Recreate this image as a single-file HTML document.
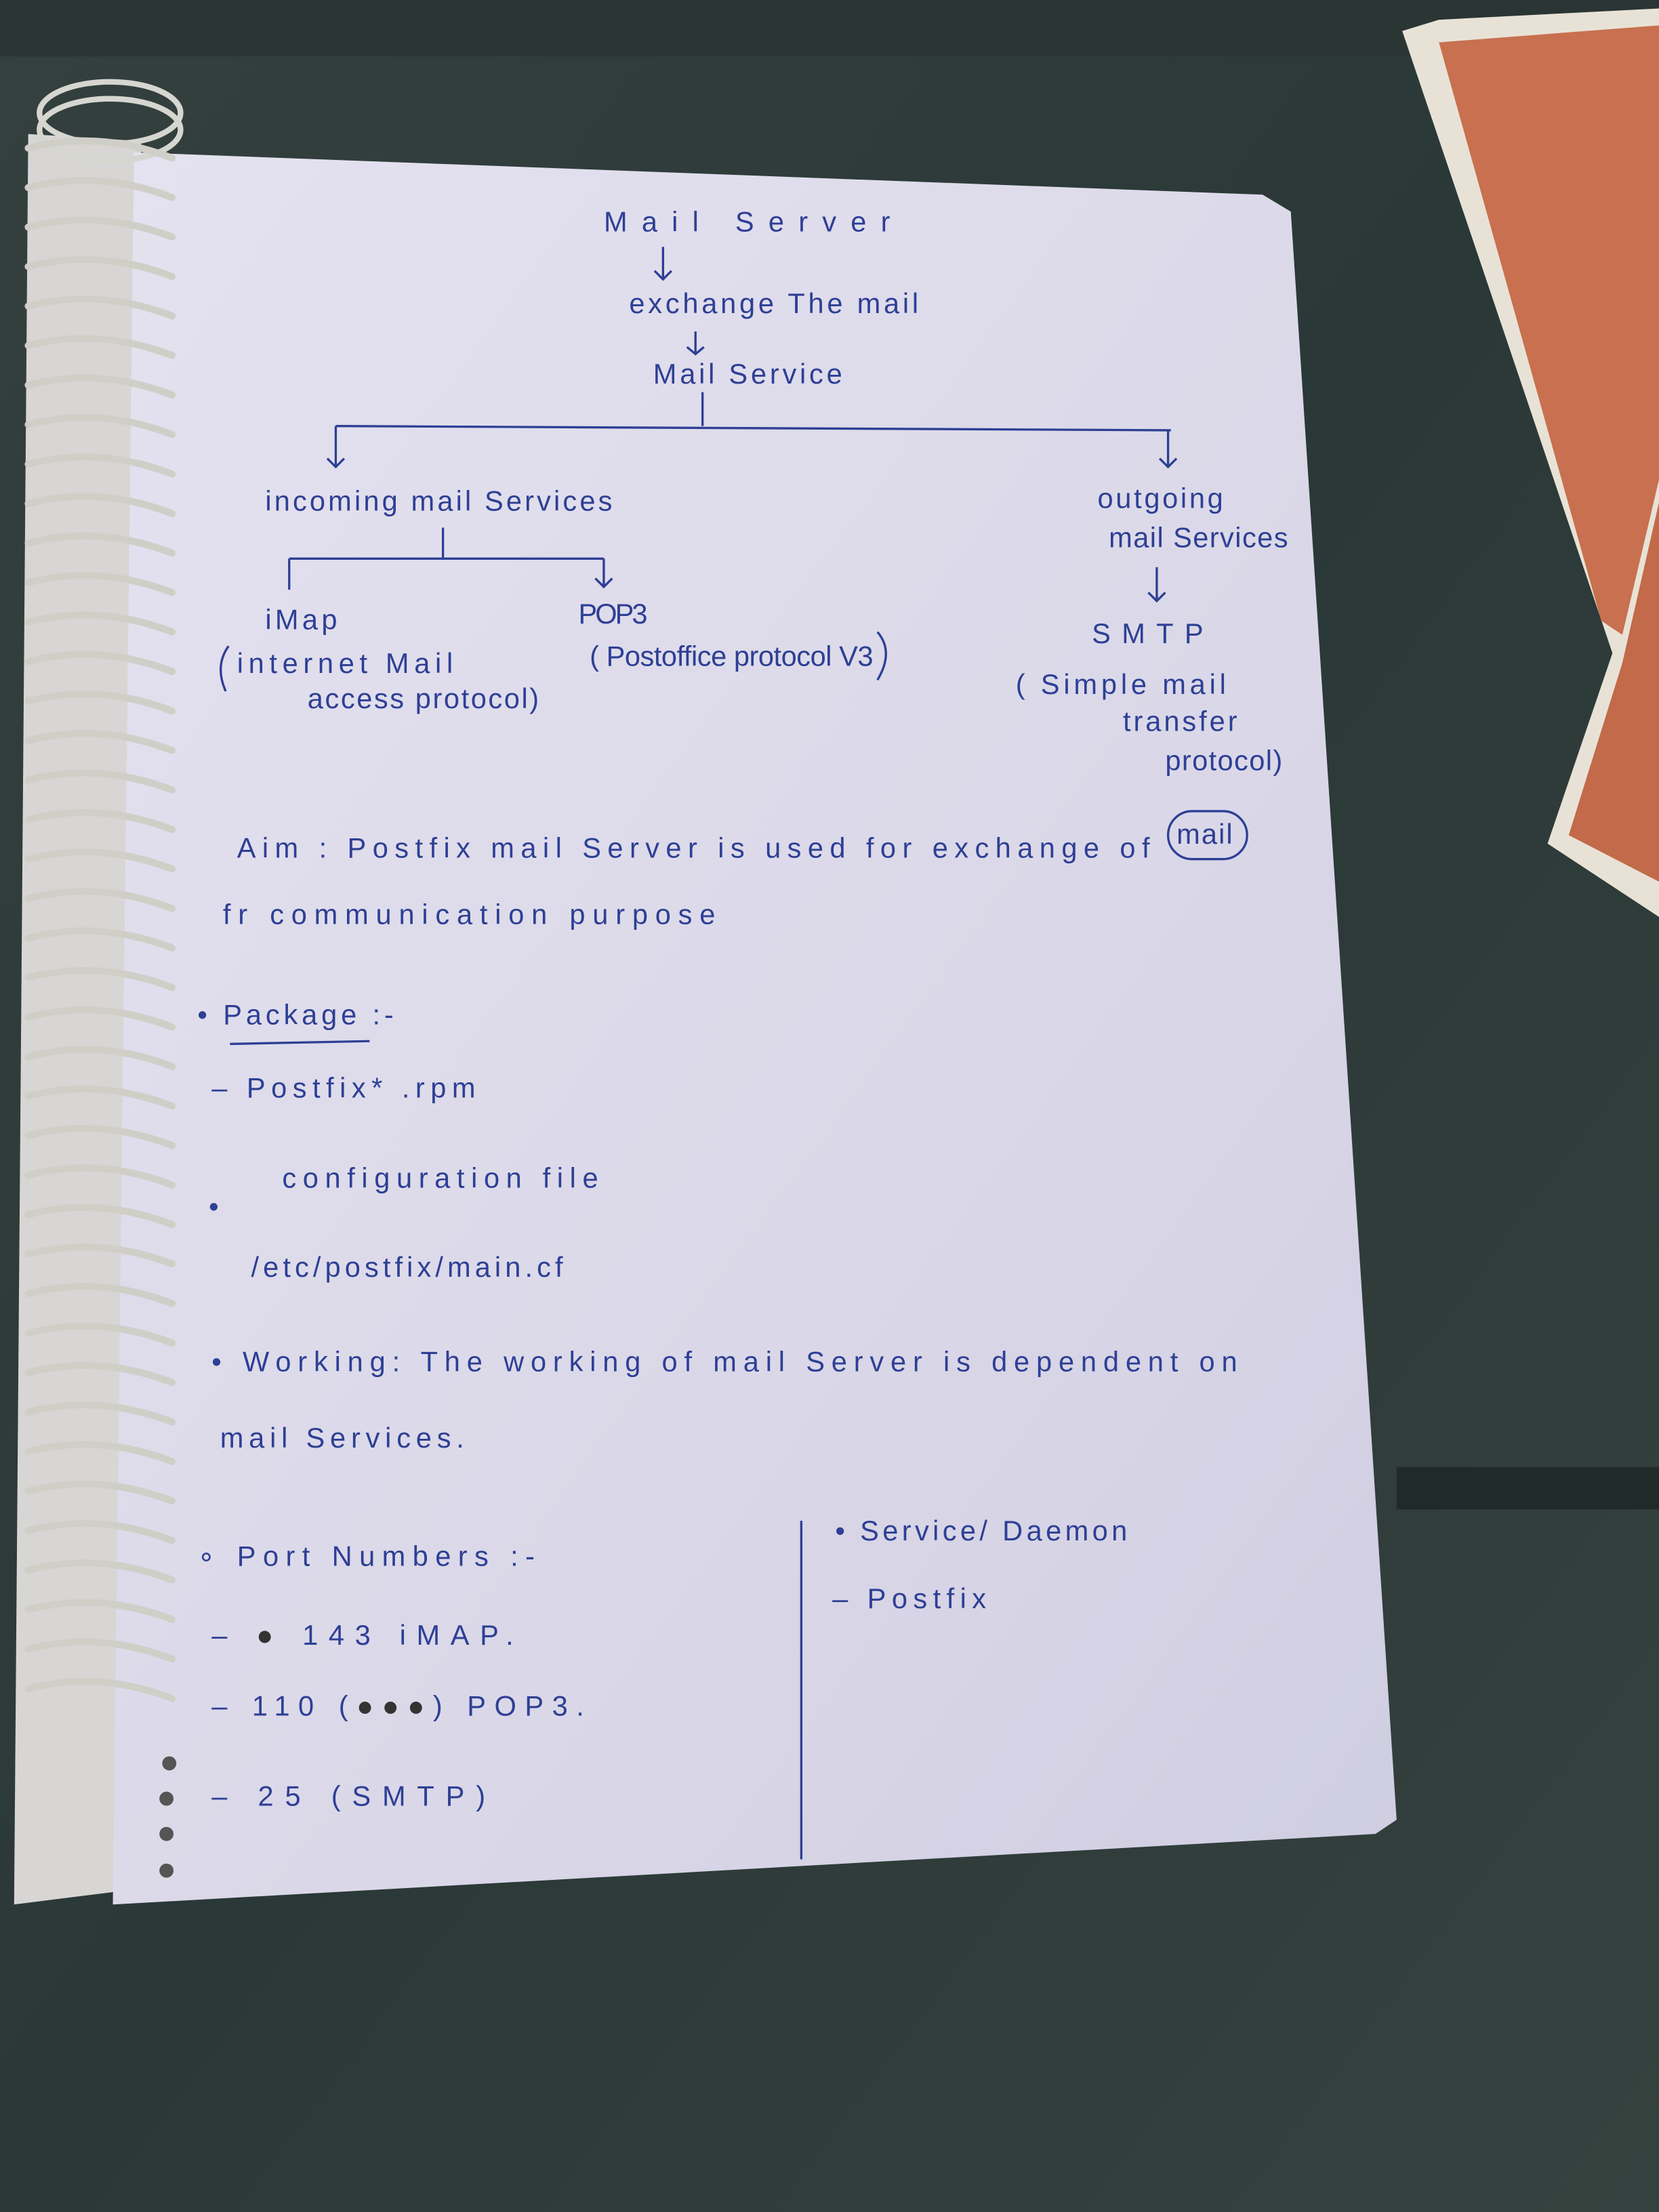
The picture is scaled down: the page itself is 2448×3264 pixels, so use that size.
<!DOCTYPE html>
<html><head><meta charset="utf-8"><style>
html,body{margin:0;padding:0;width:2448px;height:3264px;overflow:hidden;background:#2b3938}
svg{display:block}
text{font-family:"Liberation Sans",sans-serif;fill:#2e3f95;font-size:20px;letter-spacing:1px}
</style></head><body>
<svg width="2448" height="3264" viewBox="0 0 1176 1568" xmlns="http://www.w3.org/2000/svg">
<defs>
<linearGradient id="bg" x1="0" y1="0" x2="1" y2="1">
<stop offset="0" stop-color="#34403e"/><stop offset="0.5" stop-color="#2a3837"/><stop offset="1" stop-color="#36423f"/></linearGradient>
<linearGradient id="pg" x1="0" y1="0" x2="1" y2="1">
<stop offset="0" stop-color="#e4e2ef"/><stop offset="0.6" stop-color="#dad8e8"/><stop offset="1" stop-color="#cfcde0"/></linearGradient>
</defs>
<rect width="1176" height="1568" fill="url(#bg)"/>
<rect y="0" width="1176" height="40" fill="#2a3534"/>
<rect y="1040" x="990" width="186" height="30" fill="#1f2a29"/>
<!-- book -->
<polygon points="994,22 1020,14 1176,6 1176,650 1097,598 1143,463" fill="#e8e2d6"/>
<polygon points="1020,30 1176,18 1176,340 1150,450 1135,440" fill="#c8704f"/>
<polygon points="1176,356 1176,625 1112,592 1150,470" fill="#c26a4a"/>
<!-- page stack -->
<polygon points="20,95 100,100 90,1340 10,1350" fill="#d8d6d4"/>
<!-- page -->
<polygon points="95,108 895,138 915,150 990,1290 975,1300 80,1350" fill="url(#pg)"/>
<!-- spiral -->
<g stroke="#d6d6d0" stroke-width="4" fill="none">
<ellipse cx="78" cy="80" rx="50" ry="22"/><ellipse cx="78" cy="92" rx="50" ry="22"/>
</g>
<g stroke="#cfcfc8" stroke-width="5" fill="none" stroke-linecap="round">
<path d="M20,105 Q70,92 122,112"/><path d="M20,133 Q70,120 122,140"/><path d="M20,161 Q70,148 122,168"/><path d="M20,189 Q70,176 122,196"/><path d="M20,217 Q70,204 122,224"/><path d="M20,245 Q70,232 122,252"/><path d="M20,273 Q70,260 122,280"/><path d="M20,301 Q70,288 122,308"/><path d="M20,329 Q70,316 122,336"/><path d="M20,357 Q70,344 122,364"/><path d="M20,385 Q70,372 122,392"/><path d="M20,413 Q70,400 122,420"/><path d="M20,441 Q70,428 122,448"/><path d="M20,469 Q70,456 122,476"/><path d="M20,497 Q70,484 122,504"/><path d="M20,525 Q70,512 122,532"/><path d="M20,553 Q70,540 122,560"/><path d="M20,581 Q70,568 122,588"/><path d="M20,609 Q70,596 122,616"/><path d="M20,637 Q70,624 122,644"/><path d="M20,665 Q70,652 122,672"/><path d="M20,693 Q70,680 122,700"/><path d="M20,721 Q70,708 122,728"/><path d="M20,749 Q70,736 122,756"/><path d="M20,777 Q70,764 122,784"/><path d="M20,805 Q70,792 122,812"/><path d="M20,833 Q70,820 122,840"/><path d="M20,861 Q70,848 122,868"/><path d="M20,889 Q70,876 122,896"/><path d="M20,917 Q70,904 122,924"/><path d="M20,945 Q70,932 122,952"/><path d="M20,973 Q70,960 122,980"/><path d="M20,1001 Q70,988 122,1008"/><path d="M20,1029 Q70,1016 122,1036"/><path d="M20,1057 Q70,1044 122,1064"/><path d="M20,1085 Q70,1072 122,1092"/><path d="M20,1113 Q70,1100 122,1120"/><path d="M20,1141 Q70,1128 122,1148"/><path d="M20,1169 Q70,1156 122,1176"/><path d="M20,1197 Q70,1184 122,1204"/>
</g>
<g fill="#555">
<circle cx="120" cy="1250" r="5"/><circle cx="118" cy="1275" r="5"/><circle cx="118" cy="1300" r="5"/><circle cx="118" cy="1326" r="5"/>
</g>
<!-- diagram -->
<g stroke="#2e3f95" stroke-width="1.6" fill="none">
<path d="M470,175 V198 M464,192 L470,198 L476,192"/>
<path d="M493,235 V250 M487,246 L493,251 L499,246"/>
<path d="M498,278 V302"/>
<path d="M238,302 L830,305"/>
<path d="M238,302 V330 M232,325 L238,331 L244,325"/>
<path d="M828,305 V330 M822,325 L828,331 L834,325"/>
<path d="M314,374 V396"/>
<path d="M205,396 L428,396"/>
<path d="M205,396 V418 M428,396 V415 M422,410 L428,416 L434,410"/>
<path d="M820,402 V426 M814,420 L820,426 L826,420"/>
<path d="M568,1078 L568,1318"/>
<rect x="828" y="575" width="56" height="34" rx="17"/>
<path d="M162,458 Q152,472 160,490"/><path d="M622,448 Q634,462 622,482"/>
<path d="M163,740 L262,738"/>
</g>
<text x="428" y="164" font-size="26" textLength="204">Mail Server</text>
<text x="446" y="222" textLength="206">exchange The mail</text>
<text x="463" y="272" textLength="135">Mail Service</text>
<text x="188" y="362" textLength="247">incoming mail Services</text>
<text x="778" y="360" textLength="90">outgoing</text>
<text x="786" y="388" textLength="128">mail Services</text>
<text x="188" y="446" textLength="52">iMap</text>
<text x="410" y="442" textLength="50">POP3</text>
<text x="168" y="477" textLength="154">internet Mail</text>
<text x="218" y="502" font-size="18" textLength="165">access protocol)</text>
<text x="418" y="472" font-size="18" textLength="202">( Postoffice protocol V3</text>
<text x="774" y="456" font-size="22" textLength="80">SMTP</text>
<text x="720" y="492" textLength="150">( Simple mail</text>
<text x="796" y="518" font-size="17" textLength="82">transfer</text>
<text x="826" y="546" font-size="16" textLength="84">protocol)</text>
<text x="168" y="608" textLength="648">Aim :  Postfix  mail  Server  is  used  for  exchange  of</text>
<text x="834" y="598" font-size="17">mail</text>
<text x="158" y="655" textLength="350">fr   communication  purpose</text>
<text x="140" y="726" textLength="140">•  Package :-</text>
<text x="150" y="778" textLength="188">–  Postfix* .rpm</text>
<text x="148" y="862">•</text>
<text x="200" y="842" textLength="225">configuration  file</text>
<text x="178" y="905" textLength="222">/etc/postfix/main.cf</text>
<text x="150" y="972" textLength="728">•  Working:  The   working  of   mail  Server  is  dependent  on</text>
<text x="156" y="1026" textLength="174">mail  Services.</text>
<text x="140" y="1110" textLength="240">∘  Port  Numbers :-</text>
<text x="150" y="1166" textLength="215">–  <tspan fill="#333">●</tspan> 143 iMAP.</text>
<text x="150" y="1216" textLength="265">–  110 (<tspan fill="#333">●●●</tspan>) POP3.</text>
<text x="150" y="1280" textLength="195">–  25 (SMTP)</text>
<text x="592" y="1092" textLength="208">•  Service/ Daemon</text>
<text x="590" y="1140" textLength="110">–   Postfix</text>
</svg>
</body></html>
